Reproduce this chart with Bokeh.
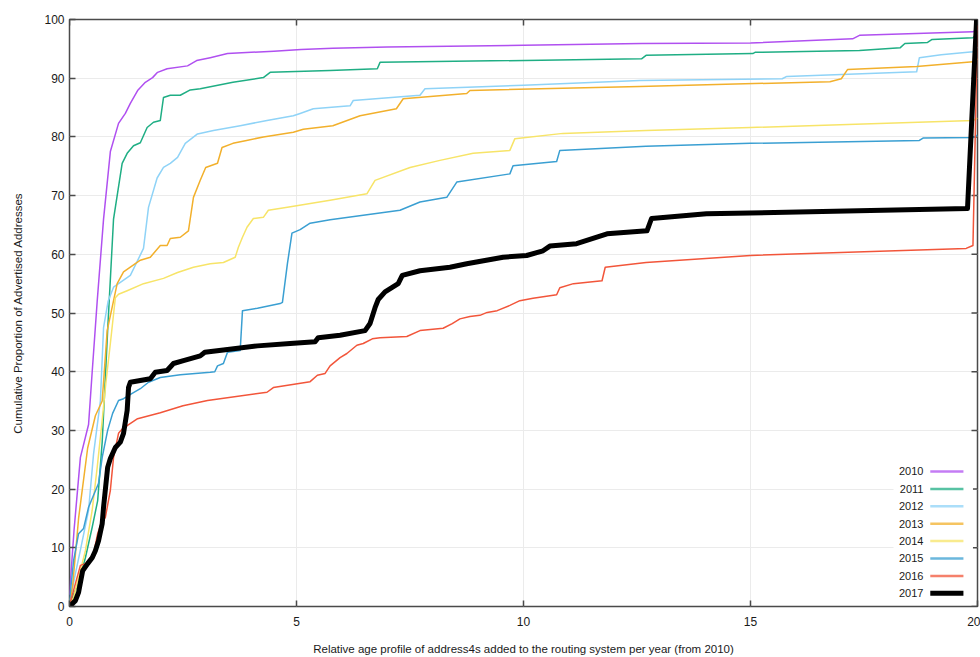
from bokeh.plotting import figure
from bokeh.models import FixedTicker, Range1d
from bokeh.embed import file_html
from bokeh.resources import INLINE
from bokeh.core.properties import value

years = ["2010", "2011", "2012", "2013", "2014", "2015", "2016", "2017"]
colors = ["#b050f0", "#1fae84", "#8fd3f7", "#f2b02c", "#f7e468", "#3a9fd2", "#f2553a", "#000000"]
widths = [1.5, 1.5, 1.5, 1.5, 1.5, 1.5, 1.5, 5]

x_ticks = [0, 5, 10, 15, 20]
y_ticks = [0, 10, 20, 30, 40, 50, 60, 70, 80, 90, 100]

x2010 = [0, 0.1, 0.24, 0.42, 0.5, 0.61, 0.75, 0.9, 1.08, 1.23, 1.34, 1.5, 1.67, 1.83, 1.94, 2.15, 2.6, 2.8,
         3.1, 3.48, 4.5, 5.1, 5.8, 7, 10, 12.6, 15, 17.25, 17.4, 19.9, 20]
y2010 = [2, 13, 25.4, 31, 40, 52, 66, 77.5, 82.3, 84, 85.7, 87.9, 89.3, 90.1, 91, 91.6, 92.1, 93,
         93.5, 94.2, 94.6, 94.9, 95.1, 95.3, 95.6, 95.9, 96, 96.7, 97.3, 97.9, 98.3]

x2011 = [0, 0.2, 0.35, 0.5, 0.62, 0.72, 0.84, 0.97, 1.16, 1.27, 1.41, 1.56, 1.71, 1.85, 2, 2.07, 2.22, 2.44,
         2.66, 2.88, 3.6, 4.27, 4.42, 5.74, 6.78, 6.84, 12.6, 12.7, 15.05, 15.1, 17.4, 18.3, 18.4, 18.9,
         19.0, 19.9, 20]
y2011 = [0.5, 4, 8.3, 13.5, 18, 28, 47, 66, 75.5, 77.2, 78.5, 79, 81.6, 82.5, 82.8, 86.7, 87.1, 87.1,
         88, 88.2, 89.3, 90.1, 91, 91.3, 91.6, 92.7, 93.3, 93.9, 94.2, 94.4, 94.7, 95.2, 95.9, 96.1,
         96.6, 96.9, 97.6]

x2012 = [0, 0.13, 0.25, 0.42, 0.53, 0.68, 0.75, 0.85, 0.97, 1.12, 1.34, 1.63, 1.74, 1.93, 2.07, 2.22, 2.38,
         2.55, 2.82, 3.17, 3.76, 4.35, 4.93, 5.08, 5.37, 6.18, 6.25, 7.72, 7.83, 10, 12.56, 15.7, 15.8,
         18.66, 18.72, 19.2, 19.9, 20]
y2012 = [0.5, 5.6, 10, 16.4, 26, 35, 47.5, 52, 54.4, 55.2, 56.4, 61, 68, 73, 74.8, 75.5, 76.5,
         78.9, 80.5, 81.1, 81.9, 82.8, 83.6, 84, 84.8, 85.3, 86.2, 87.1, 88.2, 88.8, 89.6, 89.9, 90.3,
         91.1, 93.5, 94, 94.5, 95.3]

x2013 = [0, 0.07, 0.2, 0.4, 0.57, 0.72, 0.83, 1.05, 1.19, 1.34, 1.56, 1.78, 2, 2.15, 2.22, 2.44, 2.62,
         2.73, 2.88, 3, 3.26, 3.36, 3.6, 3.9, 4.27, 4.93, 5.15, 5.8, 6.4, 7.2, 7.35, 8.75, 8.82, 12.56,
         16.75, 17.0, 17.14, 18.66, 19.9, 20]
y2013 = [0.5, 3.6, 15, 27, 32.5, 35, 47, 55, 57, 57.8, 59, 59.5, 61.5, 61.5, 62.7, 62.9, 64,
         69.7, 72.6, 74.8, 75.5, 78.2, 78.9, 79.4, 80, 80.8, 81.3, 81.9, 83.6, 84.8, 86.5, 87.4, 87.9, 88.6,
         89.4, 89.9, 91.5, 92, 92.8, 93.3]

x2014 = [0, 0.09, 0.35, 0.5, 0.61, 0.72, 0.8, 0.9, 1.01, 1.08, 1.27, 1.63, 2.07, 2.38, 2.73, 3.1, 3.39,
         3.65, 3.72, 3.81, 3.91, 4.05, 4.27, 4.38, 4.8, 5.74, 6.55, 6.73, 7.5, 8.16, 8.89, 9.7, 9.81,
         10.87, 12.7, 15, 19.9, 20]
y2014 = [0.3, 1.5, 9.5, 16.4, 23.7, 31.7, 38, 44.8, 52.6, 53.2, 53.8, 55, 55.9, 56.9, 57.8, 58.4, 58.6,
         59.5, 61.2, 62.9, 64.6, 66.1, 66.3, 67.5, 68, 69.2, 70.3, 72.6, 74.8, 76, 77.2, 77.7, 79.7,
         80.6, 81.1, 81.6, 82.8, 83.2]

x2015 = [0, 0.09, 0.2, 0.31, 0.42, 0.64, 0.72, 0.84, 0.95, 1.08, 1.19, 1.38, 1.56, 1.74, 2, 2.44, 3.1,
         3.2, 3.26, 3.39, 3.48, 3.76, 3.81, 4.14, 4.64, 4.69, 4.8, 4.9, 5.08, 5.3, 5.74, 7.28, 7.72, 8.31,
         8.53, 9.7, 9.77, 10.73, 10.8, 12.7, 15, 18.72, 18.8, 19.9, 20]
y2015 = [1, 7.8, 12.4, 13.3, 16.9, 21, 25.4, 30, 32.9, 35.1, 35.4, 36.3, 37.1, 38.2, 39, 39.5, 39.9,
         40, 41, 41.4, 43.3, 43.6, 50.4, 50.8, 51.6, 51.8, 58.4, 63.6, 64.2, 65.3, 65.9, 67.5, 68.9, 69.7,
         72.3, 73.7, 75.1, 75.8, 77.7, 78.4, 78.9, 79.4, 79.8, 79.9, 80.3]

x2016 = [0, 0.24, 0.35, 0.53, 0.62, 0.68, 0.79, 0.9, 0.97, 1.08, 1.19, 1.27, 1.5, 2, 2.5, 3.04, 4.35,
         4.49, 5.3, 5.46, 5.63, 5.74, 5.96, 6.11, 6.33, 6.47, 6.67, 6.84, 7.43, 7.72, 8.23, 8.43, 8.6,
         8.82, 9.04, 9.2, 9.42, 9.7, 9.92, 10.21, 10.73, 10.8, 11.1, 11.73, 11.8, 12.7, 15, 19.75, 19.9, 20]
y2016 = [0.2, 7, 7.3, 9, 12.4, 13.8, 15.2, 19.8, 25.4, 29.5, 30.5, 30.8, 32, 33, 34.2, 35.1, 36.5,
         37.3, 38.3, 39.4, 39.7, 41, 42.4, 43.1, 44.5, 44.8, 45.6, 45.8, 46, 47, 47.4, 48.2, 49,
         49.4, 49.6, 50.1, 50.4, 51.3, 52.1, 52.5, 53.1, 54.3, 55, 55.5, 57.8, 58.6, 59.8, 61, 61.5, 99]

x2017 = [0, 0.13, 0.2, 0.29, 0.4, 0.5, 0.57, 0.64, 0.72, 0.75, 0.84, 0.9, 1.01, 1.12, 1.19, 1.27, 1.3,
         1.34, 1.78, 1.89, 2.15, 2.29, 2.51, 2.88, 2.98, 3.39, 4.14, 4.86, 5.41, 5.48, 5.96, 6.51, 6.62,
         6.73, 6.8, 6.95, 7.24, 7.33, 7.72, 8.38, 8.75, 9.55, 10.07, 10.43, 10.58, 11.17, 11.53, 11.84,
         12.72, 12.82, 14.03, 19.78, 19.98]
y2017 = [0, 1, 2.4, 6.1, 7.3, 8.3, 9.5, 11.2, 14.1, 16.9, 23.7, 25.2, 27.1, 28, 29.5, 33.4, 37.3,
         38.2, 38.8, 39.9, 40.2, 41.4, 41.9, 42.7, 43.3, 43.7, 44.4, 44.8, 45.1, 45.8, 46.2, 47, 48.2,
         50.9, 52.3, 53.6, 55, 56.4, 57.2, 57.8, 58.4, 59.5, 59.8, 60.6, 61.4, 61.8, 62.7, 63.5,
         64, 66.1, 66.9, 67.8, 100]

series_x = [x2010, x2011, x2012, x2013, x2014, x2015, x2016, x2017]
series_y = [y2010, y2011, y2012, y2013, y2014, y2015, y2016, y2017]

FONT = "Liberation Sans"
X0, X1, Y0, Y1 = 0, 20, 0, 100
FRAME_W, FRAME_H = 908, 587
TICK_PX = 6

p = figure(width=980, height=657, x_range=Range1d(X0, X1), y_range=Range1d(Y0, Y1),
           output_backend="svg", toolbar_location=None,
           min_border_left=69, min_border_right=3, min_border_top=19, min_border_bottom=51,
           background_fill_color="white", border_fill_color="white")

p.outline_line_color = "#4a4a4a"
p.outline_line_width = 1.5
p.outline_line_alpha = 1

p.xaxis.ticker = FixedTicker(ticks=x_ticks)
p.yaxis.ticker = FixedTicker(ticks=y_ticks)
for ax in (p.xaxis[0], p.yaxis[0]):
    ax.axis_line_color = None
    ax.major_tick_in = TICK_PX
    ax.major_tick_out = 0
    ax.major_tick_line_color = "#4a4a4a"
    ax.major_tick_line_width = 1.5
    ax.minor_tick_line_color = None
    ax.major_label_text_font = FONT
    ax.major_label_text_font_size = "12px"
    ax.major_label_text_color = "#1a1a1a"
    ax.axis_label_text_font = FONT
    ax.axis_label_text_font_size = "11.5px"
    ax.axis_label_text_font_style = "normal"
    ax.axis_label_text_color = "#1a1a1a"

p.xaxis.axis_label = "Relative age profile of address4s added to the routing system per year (from 2010)"
p.yaxis.axis_label = "Cumulative Proportion of Advertised Addresses"
p.xaxis.major_label_standoff = 10
p.xaxis.axis_label_standoff = 14
p.yaxis.major_label_standoff = 5
p.yaxis.axis_label_standoff = 17

p.xgrid.ticker = FixedTicker(ticks=x_ticks)
p.ygrid.ticker = FixedTicker(ticks=y_ticks)
p.grid.grid_line_color = "#ebebeb"
p.grid.grid_line_width = 1

# mirrored inward ticks on the top and right frame edges
dy_tick = TICK_PX * (Y1 - Y0) / FRAME_H
dx_tick = TICK_PX * (X1 - X0) / FRAME_W
p.segment(x0=x_ticks, x1=x_ticks, y0=[Y1] * len(x_ticks), y1=[Y1 - dy_tick] * len(x_ticks),
          line_color="#4a4a4a", line_width=1.5)
p.segment(x0=[X1] * len(y_ticks), x1=[X1 - dx_tick] * len(y_ticks), y0=y_ticks, y1=y_ticks,
          line_color="#4a4a4a", line_width=1.5)

for xs, ys, c, w in zip(series_x, series_y, colors, widths):
    p.line(xs, ys, line_color=c, line_width=w, line_join="round")

# legend (label on the left, sample line on the right)
lg_top = 23.0
lg_step = 2.964
lg_y = [lg_top - i * lg_step for i in range(len(years))]
p.quad(left=[18.15], right=[19.9], bottom=[0.3], top=[lg_top + 1.9], fill_color="white", line_color=None)
p.text(x=[18.81] * len(years), y=lg_y, text=years, text_align="right", text_baseline="middle",
       text_font=value(FONT), text_font_size="11px", text_color="#1a1a1a")
p.segment(x0=[18.96] * len(years), x1=[19.69] * len(years), y0=lg_y, y1=lg_y,
          line_color=colors, line_width=[2.5] * 7 + [5], line_alpha=[0.75] * 7 + [1])

open("out.html", "w").write(file_html(p, INLINE))
